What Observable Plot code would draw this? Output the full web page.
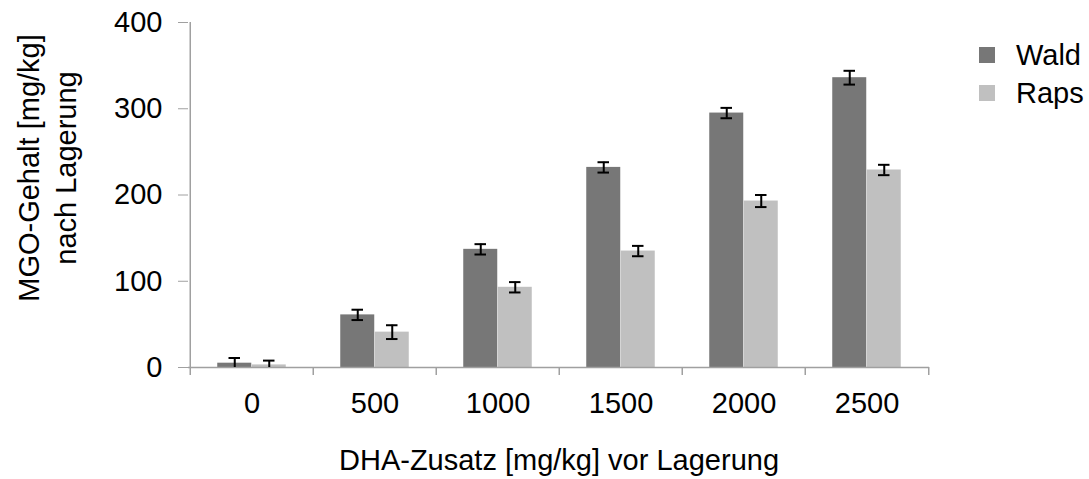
<!DOCTYPE html>
<html>
<head>
<meta charset="utf-8">
<script src="https://cdn.jsdelivr.net/npm/d3@7"></script>
<script src="https://cdn.jsdelivr.net/npm/@observablehq/plot@0.6"></script>
<style>
  html, body { margin: 0; padding: 0; background: #fff; }
  #wrap { position: relative; width: 1089px; height: 479px; font-family: "Liberation Sans", Arial, sans-serif; }
  .legend { position: absolute; left: 979px; top: 36px; font-size: 29px; color: #000; }
  .legend .item { display: flex; align-items: center; height: 38px; }
  .legend .sw { width: 16px; height: 16px; margin-right: 21px; }
</style>
</head>
<body>
<div id="wrap"></div>
<script>
const categories = ["0", "500", "1000", "1500", "2000", "2500"];
const seriesNames = ["Wald", "Raps"];
const waldValues = [5, 61, 137, 232, 295, 336];
const rapsValues = [3, 41, 93, 135, 193, 229];
const waldErrors = [6, 6, 6, 6, 6, 8];
const rapsErrors = [5, 8, 6, 6, 7, 6];
const yTicks = [0, 100, 200, 300, 400];
const colors = {Wald: "#777777", Raps: "#c0c0c0"};
const yLabel = "MGO-Gehalt [mg/kg]\nnach Lagerung";
const xLabel = "DHA-Zusatz [mg/kg] vor Lagerung";

const rows = categories.map((c, i) => ({
  cat: c,
  wald: waldValues[i], raps: rapsValues[i],
  waldLo: waldValues[i] - waldErrors[i], waldHi: waldValues[i] + waldErrors[i],
  rapsLo: rapsValues[i] - rapsErrors[i], rapsHi: rapsValues[i] + rapsErrors[i]
}));

const W = 1089, H = 479, ML = 188, MR = 160, MT = 22, MB = 112;
const bw = (W - ML - MR) / categories.length; // band width
const half = bw / 2;
const barW = 34.5;
const capHalf = 6;
const axisGray = "#a0a0a0";
const FS = 29;

const chart = Plot.plot({
  width: W, height: H,
  marginLeft: ML, marginRight: MR, marginTop: MT, marginBottom: MB,
  style: {fontFamily: "'Liberation Sans', Arial, sans-serif", fontSize: FS + "px", color: "#000", background: "#fff", overflow: "visible"},
  x: {domain: categories, padding: 0, axis: null, label: null},
  y: {domain: [0, 400], axis: null, label: null},
  marks: [
    Plot.barY(rows, {x: "cat", y: "wald", fill: colors.Wald, insetLeft: half - barW, insetRight: half}),
    Plot.barY(rows, {x: "cat", y: "raps", fill: colors.Raps, insetLeft: half, insetRight: half - barW}),
    Plot.ruleY([0], {stroke: axisGray, strokeWidth: 1.5}),
    Plot.ruleX([categories[0]], {x: d => d, y1: 0, y2: 400, dx: -half, stroke: axisGray, strokeWidth: 1.5}),
    Plot.axisY({ticks: yTicks, tickSize: 10, tickPadding: 16, stroke: axisGray, fill: "#000", fontSize: FS, label: null}),
    Plot.axisX({tickSize: 0, tickPadding: 25, fontSize: FS, fill: "#000", label: null}),
    Plot.axisX({tickSize: 8, tickFormat: () => "", dx: -half, stroke: axisGray, strokeWidth: 1.5, label: null}),
    Plot.axisX([categories[categories.length - 1]], {tickSize: 8, tickFormat: () => "", dx: half, stroke: axisGray, strokeWidth: 1.5, label: null}),
    // error bars
    Plot.ruleX(rows, {x: "cat", y1: "waldLo", y2: "waldHi", dx: -barW / 2, stroke: "#000", strokeWidth: 2, clip: true}),
    Plot.ruleX(rows, {x: "cat", y1: "rapsLo", y2: "rapsHi", dx: barW / 2, stroke: "#000", strokeWidth: 2, clip: true}),
    Plot.tickY(rows, {x: "cat", y: "waldHi", insetLeft: half - barW / 2 - capHalf, insetRight: half + barW / 2 - capHalf, stroke: "#000", strokeWidth: 2, clip: true}),
    Plot.tickY(rows, {x: "cat", y: "waldLo", insetLeft: half - barW / 2 - capHalf, insetRight: half + barW / 2 - capHalf, stroke: "#000", strokeWidth: 2, clip: true}),
    Plot.tickY(rows, {x: "cat", y: "rapsHi", insetLeft: half + barW / 2 - capHalf, insetRight: half - barW / 2 - capHalf, stroke: "#000", strokeWidth: 2, clip: true}),
    Plot.tickY(rows, {x: "cat", y: "rapsLo", insetLeft: half + barW / 2 - capHalf, insetRight: half - barW / 2 - capHalf, stroke: "#000", strokeWidth: 2, clip: true}),
    // axis titles
    Plot.text([yLabel], {text: d => d, frameAnchor: "left", textAnchor: "middle", lineAnchor: "middle", rotate: -90, dx: 45 - ML, dy: -27, fontSize: FS, lineHeight: 1.3, fill: "#000"}),
    Plot.text([xLabel], {text: d => d, frameAnchor: "bottom", textAnchor: "middle", lineAnchor: "middle", dy: 93, fontSize: FS, fill: "#000"})
  ]
});

const wrap = document.getElementById("wrap");
wrap.appendChild(chart);
const legend = document.createElement("div");
legend.className = "legend";
for (const name of seriesNames) {
  const item = document.createElement("div");
  item.className = "item";
  const sw = document.createElement("span");
  sw.className = "sw";
  sw.style.background = colors[name];
  const label = document.createElement("span");
  label.textContent = name;
  item.appendChild(sw);
  item.appendChild(label);
  legend.appendChild(item);
}
wrap.appendChild(legend);
</script>
</body>
</html>
